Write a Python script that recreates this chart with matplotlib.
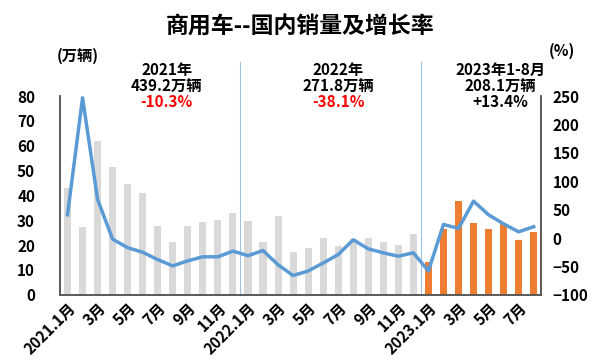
import numpy as np
import matplotlib
matplotlib.use("Agg")
import matplotlib.pyplot as plt

plt.rcParams['font.family'] = ['Noto Sans CJK SC', 'DejaVu Sans']

# -- Data --
tick_labels = ["2021.1月", "3月", "5月", "7月", "9月", "11月",
               "2022.1月", "3月", "5月", "7月", "9月", "11月",
               "2023.1月", "3月", "5月", "7月"]
sales_2021 = [43.1, 27.2, 62.1, 51.6, 44.8, 40.8, 27.9, 21.4, 27.9, 29.2, 30.0, 33.0]
sales_2022 = [29.8, 21.4, 31.9, 17.4, 19.0, 22.8, 19.8, 22.5, 22.8, 21.4, 20.0, 24.6]
sales_2023 = [13.1, 26.7, 37.6, 29.0, 26.7, 28.7, 22.2, 25.2]
growth = [41, 247, 68, -2, -17, -25, -38, -49, -40, -33, -33, -23,
          -31, -22, -47, -66, -58, -44, -29, -3, -19, -26, -32, -26,
          -58, 24, 17, 65, 41, 25, 11, 20]
year_titles = ["2021年", "2022年", "2023年1-8月"]
year_totals = ["439.2万辆", "271.8万辆", "208.1万辆"]
year_rates = ["-10.3%", "-38.1%", "+13.4%"]

def main():
    fig = plt.figure(figsize=(6, 3.6), dpi=100)
    ax = fig.add_axes([0.1, 0.181, 0.802, 0.552])

    sales = sales_2021 + sales_2022 + sales_2023
    x = np.arange(len(sales))
    colors = ['#d9d9d9'] * (len(sales_2021) + len(sales_2022)) + ['#ed7d31'] * len(sales_2023)
    ax.bar(x, sales, width=0.47, color=colors, zorder=2)
    ax.set_xlim(-0.5, len(sales) - 0.5)
    ax.set_ylim(0, 80)
    ax.set_yticks(range(0, 81, 10))

    ax2 = ax.twinx()
    ax2.plot(x, growth, color='#5b9bd5', lw=2.5, zorder=3)
    ax2.set_ylim(-100, 250)
    ax2.set_yticks(range(-100, 251, 50))

    ax.set_xticks(x[::2])
    ax.set_xticklabels(tick_labels, rotation=45, ha='right', rotation_mode='anchor',
                       fontsize=10, fontweight='bold')
    for a in (ax, ax2):
        a.tick_params(length=0, labelsize=11)
        for lab in a.get_yticklabels():
            lab.set_fontweight('bold')
        a.spines['top'].set_visible(False)
        for s in ('left', 'right', 'bottom'):
            a.spines[s].set_color('#595959')
            a.spines[s].set_linewidth(1.2)
    ax.tick_params(axis='y', pad=18)
    ax2.tick_params(axis='y', pad=8)

    # year separators
    for b in (11.5, 23.5):
        ax.axvline(b, ymin=0, ymax=1.17, color='#9dc3e6', lw=0.8, clip_on=False, zorder=1)

    # year annotations
    centers = [6.6, 18.0, 28.8]
    tr = ax.get_xaxis_transform()
    for c, t, tot, r in zip(centers, year_titles, year_totals, year_rates):
        ax.text(c, 1.13, t, transform=tr, ha='center', va='center',
                fontsize=11, fontweight='bold')
        ax.text(c, 1.05, tot, transform=tr, ha='center', va='center',
                fontsize=11, fontweight='bold')
        ax.text(c, 0.97, r, transform=tr, ha='center', va='center',
                fontsize=11, fontweight='bold', color='red' if r.startswith('-') else 'black')

    fig.text(0.5, 0.925, "商用车--国内销量及增长率", ha='center', va='center',
             fontsize=16.5, fontweight='bold')
    fig.text(0.13, 0.845, "(万辆)", ha='center', va='center', fontsize=11, fontweight='bold')
    fig.text(0.937, 0.86, "(%)", ha='center', va='center', fontsize=11, fontweight='bold')

    fig.savefig("out.png", dpi=100)

if __name__ == "__main__":
    main()
